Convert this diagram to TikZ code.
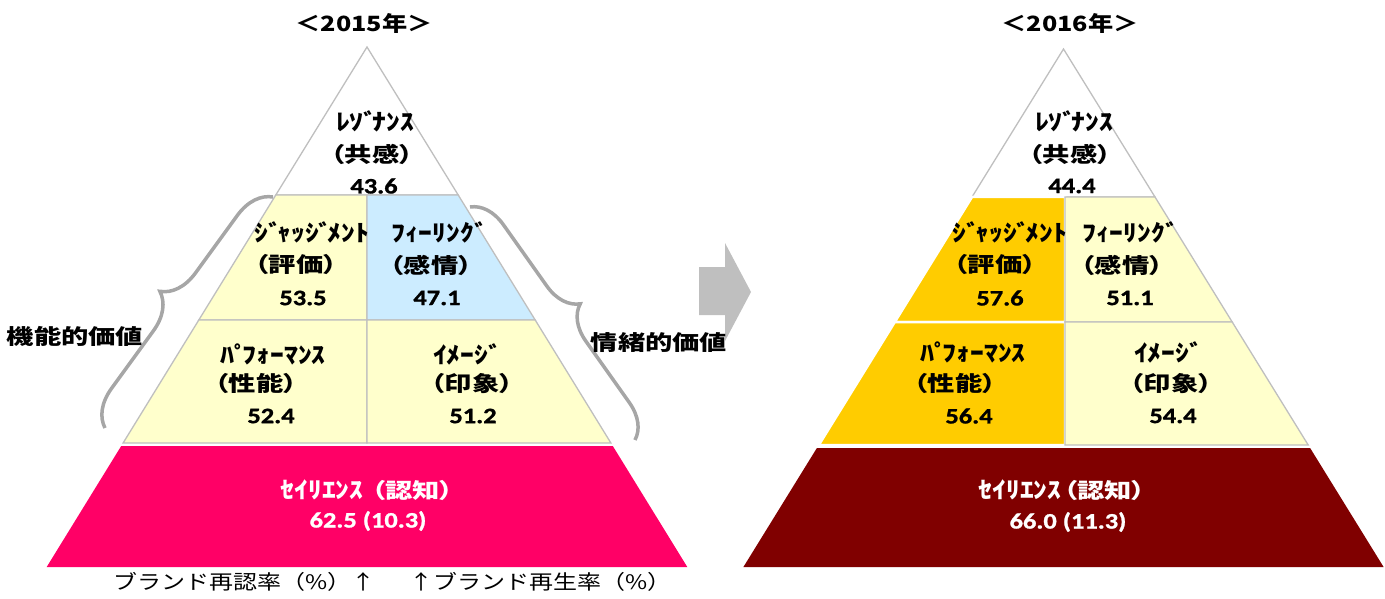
\documentclass[tikz,border=0pt]{standalone}
\usepackage{fontspec}
\usetikzlibrary{decorations.pathreplacing}
\newfontfamily\jpkanji[FakeStretch=1.3,RawFeature=+palt]{Noto Sans CJK JP}
\newfontfamily\jptitle[FakeStretch=1.2,RawFeature=+palt]{Noto Sans CJK JP}
\newfontfamily\jpkana[FakeStretch=1.2]{Noto Sans CJK JP}
\newfontfamily\jpfoot[FakeStretch=1.2]{Noto Sans CJK JP}
\newfontfamily\numf[FakeStretch=1.2,FakeBold=1.2]{Carlito Bold}
\newcommand\kn[1]{{\jpkana\bfseries\fontsize{23}{23}\selectfont #1}}
\newcommand\kj[1]{{\jpkanji\bfseries\fontsize{21}{21}\selectfont #1}}
\newcommand\dk{ﾞ\kern-5pt}
\newcommand\hdk{ﾟ\kern-5pt}
\definecolor{lyel}{HTML}{FFFFCC}
\definecolor{lblu}{HTML}{CCECFF}
\definecolor{mag}{HTML}{FF0066}
\definecolor{dred}{HTML}{800000}
\definecolor{oran}{HTML}{FFCC00}
\definecolor{lgray}{HTML}{BFBFBF}
\definecolor{bgray}{HTML}{A6A6A6}
\tikzset{
  cell/.style={draw=lgray, line width=1.3pt, line join=miter},
  ocell/.style={fill=oran, draw=white, line width=2.5pt, line join=miter},
  jl/.style={font=\jpkanji\bfseries\fontsize{21}{21}\selectfont, inner sep=0pt},
  ttl/.style={font=\jptitle\bfseries\fontsize{21}{21}\selectfont, inner sep=0pt},
  jw/.style={font=\jpkana\bfseries\fontsize{23}{23}\selectfont, inner sep=0pt},
  nm/.style={font=\numf\fontsize{22}{22}\selectfont, inner sep=0pt},
  foot/.style={font=\jpfoot\fontsize{20}{20}\selectfont, inner sep=0pt},
  bracestyle/.style={draw=bgray, line width=3.5pt, decorate, decoration={brace, amplitude=#1}},
}
\begin{document}
\begin{tikzpicture}[x=1pt,y=-1pt]
\useasboundingbox (0,0) rectangle (1385,599);

% ---------------- 2015 pyramid ----------------
\path[fill=white, cell] (367,47) -- (458.2,195) -- (275.8,195) -- cycle;
\path[fill=lyel, cell] (275.8,195) -- (367,195) -- (367,320) -- (198.8,320) -- cycle;
\path[fill=lblu, cell] (367,195) -- (458.2,195) -- (535.2,320) -- (367,320) -- cycle;
\path[fill=lyel, cell] (198.8,320) -- (367,320) -- (367,443) -- (123.1,443) -- cycle;
\path[fill=lyel, cell] (367,320) -- (535.2,320) -- (610.9,443) -- (367,443) -- cycle;
\path[fill=mag] (121.2,446) -- (612.8,446) -- (687.3,567) -- (46.7,567) -- cycle;

% braces
\coordinate (lbA) at (105,428);
\coordinate (lbB) at (273,197);
\coordinate (rbA) at (470,207);
\coordinate (rbB) at (635,440);
\draw[bracestyle=36pt] (lbA) -- (lbB);
\draw[bracestyle=34pt] (rbA) -- (rbB);

% ---------------- arrow ----------------
\path[fill=lgray] (699,267) -- (725,267) -- (725,243) -- (751,292) -- (725,341) -- (725,315) -- (699,315) -- cycle;

% ---------------- 2016 pyramid ----------------
\path[fill=white, cell] (1063.5,49) -- (1155,197) -- (972,197) -- cycle;
\path[ocell] (972,197) -- (1065,197) -- (1065,322) -- (894.8,322) -- cycle;
\path[ocell] (894.8,322) -- (1065,322) -- (1065,445) -- (818.8,445) -- cycle;
\path[fill=lyel, cell] (1065,197) -- (1155,197) -- (1232.2,322) -- (1065,322) -- cycle;
\path[fill=lyel, cell] (1065,322) -- (1232.2,322) -- (1308.2,445) -- (1065,445) -- cycle;
\path[fill=dred] (816.9,448) -- (1310.1,448) -- (1383.6,567) -- (743.4,567) -- cycle;

% ---------------- texts 2015 ----------------
\node[ttl] (t15) at (364,23) {＜2015年＞};
\node[jw] (a1) at (375,121) {ﾚｿ\dk ﾅﾝｽ};
\node[jl] (a2) at (372,154) {（共感）};
\node[nm] (a3) at (374,186) {43.6};
\node[jw] (b1) at (312,232) {ｼ\dk ｬｯｼ\dk ﾒﾝﾄ};
\node[jl] (b2) at (296,265) {（評価）};
\node[nm] (b3) at (303,298) {53.5};
\node[jw] (c1) at (437,232) {ﾌｨｰﾘﾝｸ\dk};
\node[jl] (c2) at (431,265) {（感情）};
\node[nm] (c3) at (437,298) {47.1};
\node[jw] (d1) at (273,354) {ﾊ\hdk ﾌｫｰﾏﾝｽ};
\node[jl] (d2) at (256,384) {（性能）};
\node[nm] (d3) at (271,416) {52.4};
\node[jw] (e1) at (465,354) {ｲﾒｰｼ\dk};
\node[jl] (e2) at (472,384) {（印象）};
\node[nm] (e3) at (473,416) {51.2};
\node[jw, text=white] (f1) at (367,490) {ｾｲﾘｴﾝｽ\kern8pt\kj{（認知）}};
\node[nm, text=white] (f2) at (368,521) {62.5 (10.3)};
\node[jl] (g1) at (75,336) {機能的価値};
\node[jl] (g2) at (659,343) {情緒的価値};
\node[foot, anchor=east] (h1) at (376,582) {ブランド再認率（\%）↑};
\node[foot, anchor=west] (h2) at (409,582) {↑ブランド再生率（\%）};

% ---------------- texts 2016 ----------------
\node[ttl] (t16) at (1070,23) {＜2016年＞};
\node[jw] (p1) at (1074,121) {ﾚｿ\dk ﾅﾝｽ};
\node[jl] (p2) at (1070,154) {（共感）};
\node[nm] (p3) at (1072,186) {44.4};
\node[jw] (q1) at (1010,232) {ｼ\dk ｬｯｼ\dk ﾒﾝﾄ};
\node[jl] (q2) at (995,265) {（評価）};
\node[nm] (q3) at (1000,298) {57.6};
\node[jw] (r1) at (1128,232) {ﾌｨｰﾘﾝｸ\dk};
\node[jl] (r2) at (1122,265) {（感情）};
\node[nm] (r3) at (1130,298) {51.1};
\node[jw] (s1) at (973,352) {ﾊ\hdk ﾌｫｰﾏﾝｽ};
\node[jl] (s2) at (955,384) {（性能）};
\node[nm] (s3) at (969,416) {56.4};
\node[jw] (u1) at (1166,352) {ｲﾒｰｼ\dk};
\node[jl] (u2) at (1171,384) {（印象）};
\node[nm] (u3) at (1173,416) {54.4};
\node[jw, text=white] (v1) at (1062,490) {ｾｲﾘｴﾝｽ\kern2pt\kj{（認知）}};
\node[nm, text=white] (v2) at (1068,522) {66.0 (11.3)};
\end{tikzpicture}
\end{document}
